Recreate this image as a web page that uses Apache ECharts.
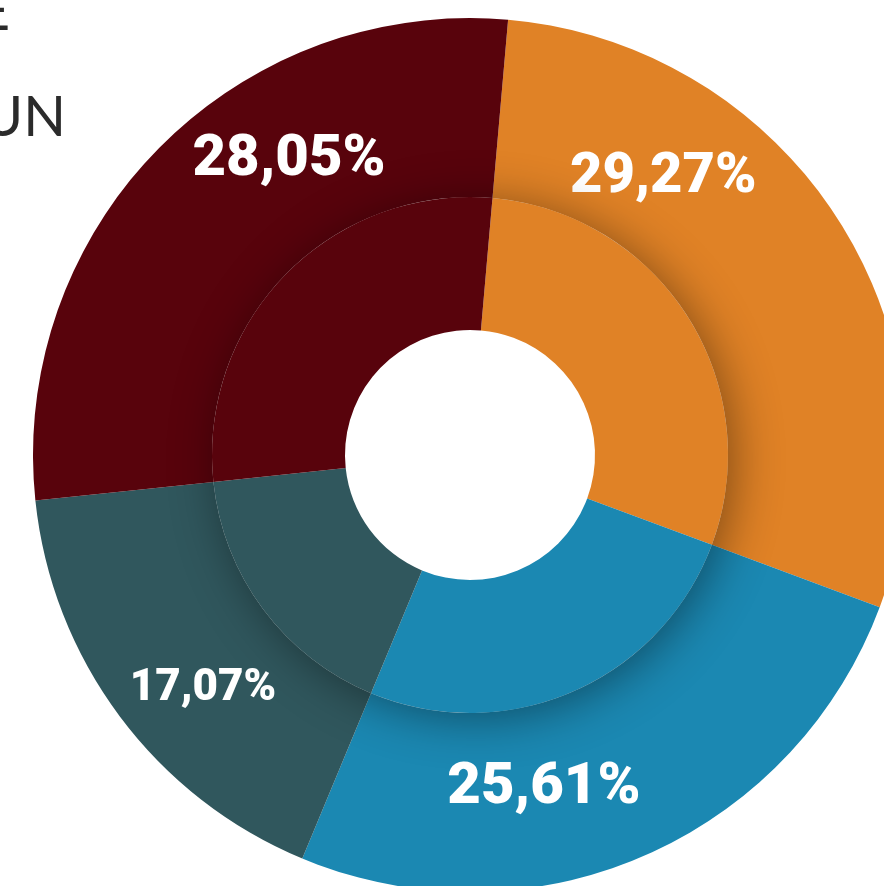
<!DOCTYPE html>
<html>
<head>
<meta charset="utf-8">
<script src="https://cdn.jsdelivr.net/npm/echarts@6/dist/echarts.min.js"></script>
<style>
  html, body { margin: 0; padding: 0; background: #ffffff; }
  #chart { width: 884px; height: 886px; }
</style>
</head>
<body>
<div id="chart"></div>
<script>
// slices, clockwise from just right of 12 o'clock
const categories = ["Grupo 1", "Grupo 2", "Grupo 3", "Grupo 4"];
const shares = [29.27, 25.61, 17.07, 28.05];
const sliceColors = ["#E08226", "#1B88B2", "#30575D", "#58030C"];

// label nudges from the ring middle, and sizes
const labelOffsets = [[-103, -90], [-66, 12], [14, 25], [69, -49]];
const labelSizes = [56, 58, 44, 58];

const chart = echarts.init(document.getElementById("chart"));

const formatShare = v => v.toFixed(2).replace(".", ",") + "%";

const center = [470, 455];

const option = {
  animation: false,
  title: [
    {
      text: "E",
      right: 874,
      top: -16,
      padding: 0,
      textStyle: { fontFamily: "Lato", fontWeight: 400, fontSize: 56, color: "#2b2b2b" }
    },
    {
      text: "UN",
      right: 818,
      top: 90,
      padding: 0,
      textStyle: { fontFamily: "Lato", fontWeight: 400, fontSize: 56, color: "#2b2b2b" }
    }
  ],
  series: [
    {
      name: "outer",
      type: "pie",
      z: 1,
      center: center,
      radius: [258, 437],
      startAngle: 85,
      clockwise: true,
      silent: true,
      emphasis: { disabled: true },
      labelLine: { show: false },
      label: {
        show: true,
        position: "inside",
        color: "#ffffff",
        fontFamily: "Roboto",
        fontWeight: 900,
        formatter: p => formatShare(p.value)
      },
      data: shares.map((v, i) => ({
        name: categories[i],
        value: v,
        itemStyle: { color: sliceColors[i] },
        label: { offset: labelOffsets[i], fontSize: labelSizes[i] }
      }))
    },
    {
      // white disc that throws the shadow onto the outer ring
      name: "shadow",
      type: "pie",
      z: 2,
      center: center,
      radius: [0, 256],
      silent: true,
      emphasis: { disabled: true },
      label: { show: false },
      labelLine: { show: false },
      itemStyle: {
        color: "#ffffff",
        shadowBlur: 50,
        shadowColor: "rgba(0,0,0,0.45)",
        shadowOffsetX: 6,
        shadowOffsetY: 5
      },
      data: [{ name: "base", value: 1 }]
    },
    {
      name: "inner",
      type: "pie",
      z: 3,
      center: center,
      radius: [125, 258],
      startAngle: 85,
      clockwise: true,
      silent: true,
      emphasis: { disabled: true },
      label: { show: false },
      labelLine: { show: false },
      data: shares.map((v, i) => ({
        name: categories[i],
        value: v,
        itemStyle: { color: sliceColors[i] }
      }))
    }
  ]
};

chart.setOption(option);
</script>
</body>
</html>
